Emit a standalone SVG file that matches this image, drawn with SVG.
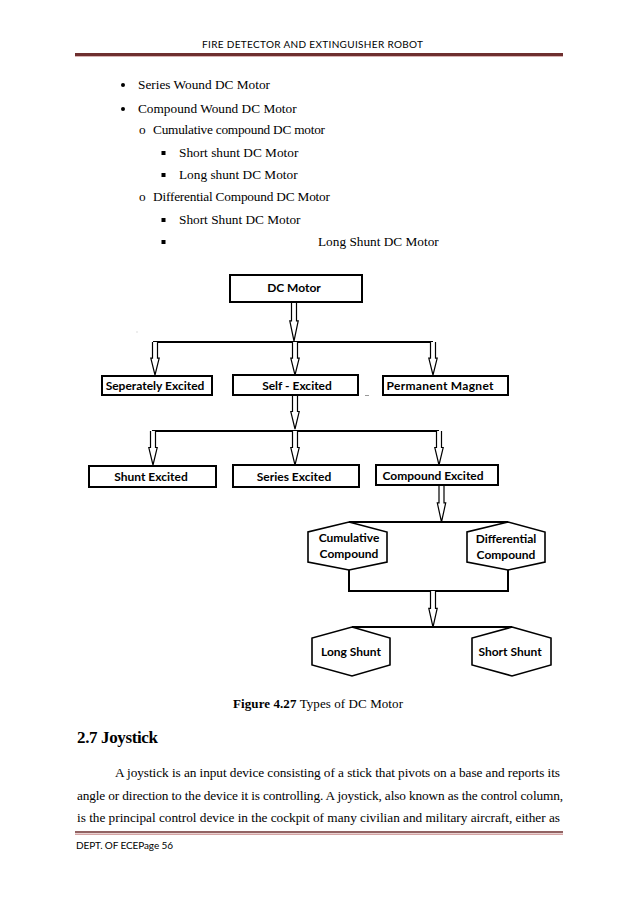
<svg xmlns="http://www.w3.org/2000/svg" width="638" height="903" viewBox="0 0 638 903">
<style>
.serif{font-family:"Liberation Serif","Times New Roman",serif;fill:#000}
.body{font-size:13.3px}
.hdr{font-family:Lato,"Open Sans",sans-serif;fill:#000}
.lbl{font-family:Lato,"Open Sans",sans-serif;font-weight:bold;font-size:12px;fill:#000;text-anchor:middle}
.box{fill:#fff;stroke:#000;stroke-width:2}
.hex{fill:#fff;stroke:#000;stroke-width:1.6}
.ln{fill:none;stroke:#000;stroke-width:2}
.arr{fill:#fff;stroke:#000;stroke-width:1.2;stroke-linejoin:miter}
</style>
<defs>
<path id="barr" d="M-2.5,-35 V-18 H-4.2 L0,0 L4.2,-18 H2.5 V-35"/>
</defs>
<rect width="638" height="903" fill="#fff"/>

<!-- page header -->
<text class="hdr" x="202" y="47.5" font-size="10" textLength="221">FIRE DETECTOR AND EXTINGUISHER ROBOT</text>
<line x1="75" y1="54.5" x2="563" y2="54.5" stroke="#6e2f2f" stroke-width="3"/>
<line x1="75" y1="56.5" x2="563" y2="56.5" stroke="#d9b3b3" stroke-width="1"/>

<!-- bullet list -->
<g class="serif body">
<circle cx="123" cy="85" r="2" fill="#000"/>
<text x="138" y="89">Series Wound DC Motor</text>
<circle cx="123" cy="109" r="2" fill="#000"/>
<text x="138" y="113">Compound Wound DC Motor</text>
<text x="139" y="134">o</text>
<text x="153" y="134" textLength="172">Cumulative  compound DC motor</text>
<rect x="161.5" y="151" width="4" height="4" fill="#000"/>
<text x="179" y="157">Short shunt DC Motor</text>
<rect x="161.5" y="173" width="4" height="4" fill="#000"/>
<text x="179" y="179">Long shunt DC Motor</text>
<text x="139" y="201">o</text>
<text x="153" y="201" textLength="177">Differential  Compound DC Motor</text>
<rect x="161.5" y="218" width="4" height="4" fill="#000"/>
<text x="179" y="224">Short Shunt DC Motor</text>
<rect x="161.5" y="240" width="4" height="4" fill="#000"/>
<text x="318" y="246">Long Shunt DC Motor</text>
</g>

<!-- connectors -->
<g id="connectors">
<use href="#barr" transform="translate(294,341) scale(1,1.12)" class="arr"/>
<line class="ln" x1="153" y1="342" x2="433" y2="342"/>
<use href="#barr" transform="translate(155,375) scale(1,0.94)" class="arr"/>
<use href="#barr" transform="translate(295,375) scale(1,0.94)" class="arr"/>
<use href="#barr" transform="translate(433,375) scale(1,0.94)" class="arr"/>
<use href="#barr" transform="translate(295,429) scale(1,0.97)" class="arr"/>
<line class="ln" x1="152" y1="431" x2="439" y2="431"/>
<use href="#barr" transform="translate(153,465) scale(1,0.97)" class="arr"/>
<use href="#barr" transform="translate(295,465) scale(1,0.97)" class="arr"/>
<use href="#barr" transform="translate(439,465) scale(1,0.97)" class="arr"/>
<use href="#barr" transform="translate(441.5,522) scale(1,1.06)" class="arr"/>
<line class="ln" x1="349" y1="522" x2="508" y2="522"/>
<polyline class="ln" points="349,570 349,591 508,591 508,570"/>
<use href="#barr" transform="translate(433,627) scale(1,1.03)" class="arr"/>
<line class="ln" x1="352" y1="627" x2="512" y2="627"/>
</g>

<!-- nodes -->
<g id="dc-motor">
<rect class="box" x="230" y="275" width="132" height="27" stroke-width="2.5"/>
<text class="lbl" x="294" y="292">DC Motor</text>
</g>
<g id="seperately-excited">
<rect class="box" x="102" y="376" width="110" height="19"/>
<text class="lbl" x="155" y="390">Seperately Excited</text>
</g>
<g id="self-excited">
<rect class="box" x="233" y="375" width="125" height="20"/>
<text class="lbl" x="297" y="389.5">Self - Excited</text>
</g>
<g id="permanent-magnet">
<rect class="box" x="383" y="376" width="125" height="19"/>
<text class="lbl" x="440" y="390" textLength="107">Permanent  Magnet</text>
</g>
<g id="shunt-excited">
<rect class="box" x="89" y="466" width="127" height="21"/>
<text class="lbl" x="151" y="481">Shunt  Excited</text>
</g>
<g id="series-excited">
<rect class="box" x="233" y="465" width="126" height="22"/>
<text class="lbl" x="294" y="481">Series  Excited</text>
</g>
<g id="compound-excited">
<rect class="box" x="376" y="465" width="122" height="20"/>
<text class="lbl" x="433" y="480">Compound  Excited</text>
</g>
<g id="cumulative-compound">
<polygon class="hex" points="349,522 387,532 387,562 349,570 308,562 308,532"/>
<text class="lbl" x="349" y="542">Cumulative</text>
<text class="lbl" x="349" y="558">Compound</text>
</g>
<g id="differential-compound">
<polygon class="hex" points="508,522 545,532 545,562 508,570 467,562 467,532"/>
<text class="lbl" x="506" y="543">Differential</text>
<text class="lbl" x="506" y="559">Compound</text>
</g>
<g id="long-shunt">
<polygon class="hex" points="352,627 390,638 390,665 352,676 312,665 312,638"/>
<text class="lbl" x="351" y="656">Long Shunt</text>
</g>
<g id="short-shunt">
<polygon class="hex" points="512,627 551,638 551,665 512,676 472,665 472,638"/>
<text class="lbl" x="510" y="656">Short Shunt</text>
</g>

<!-- small specks -->
<line x1="365" y1="395.5" x2="369" y2="395.5" stroke="#999" stroke-width="1"/>
<rect x="136.5" y="331.5" width="1" height="1" fill="#bbb"/>

<!-- caption and body -->
<text class="serif" x="233" y="708" font-size="13" textLength="170"><tspan font-weight="bold">Figure  4.27</tspan>  Types  of  DC Motor</text>
<text class="serif" x="77" y="742.5" font-size="17" font-weight="bold" textLength="81">2.7  Joystick</text>
<g class="serif body">
<text x="115" y="777" textLength="445">A joystick is an input device consisting of a stick that pivots on a base and reports its</text>
<text x="77" y="800" textLength="486">angle or direction to the device it is controlling. A joystick, also known as the control column,</text>
<text x="77" y="822" textLength="483">is the principal control device in the cockpit of many civilian and military aircraft, either as</text>
</g>

<!-- footer -->
<line x1="75" y1="832" x2="563" y2="832" stroke="#6e2f2f" stroke-width="1.5"/>
<line x1="75" y1="834.3" x2="563" y2="834.3" stroke="#d4a3a3" stroke-width="1.5"/>
<text class="hdr" x="76" y="849" font-size="10" textLength="97">DEPT. OF ECEPage 56</text>
</svg>
